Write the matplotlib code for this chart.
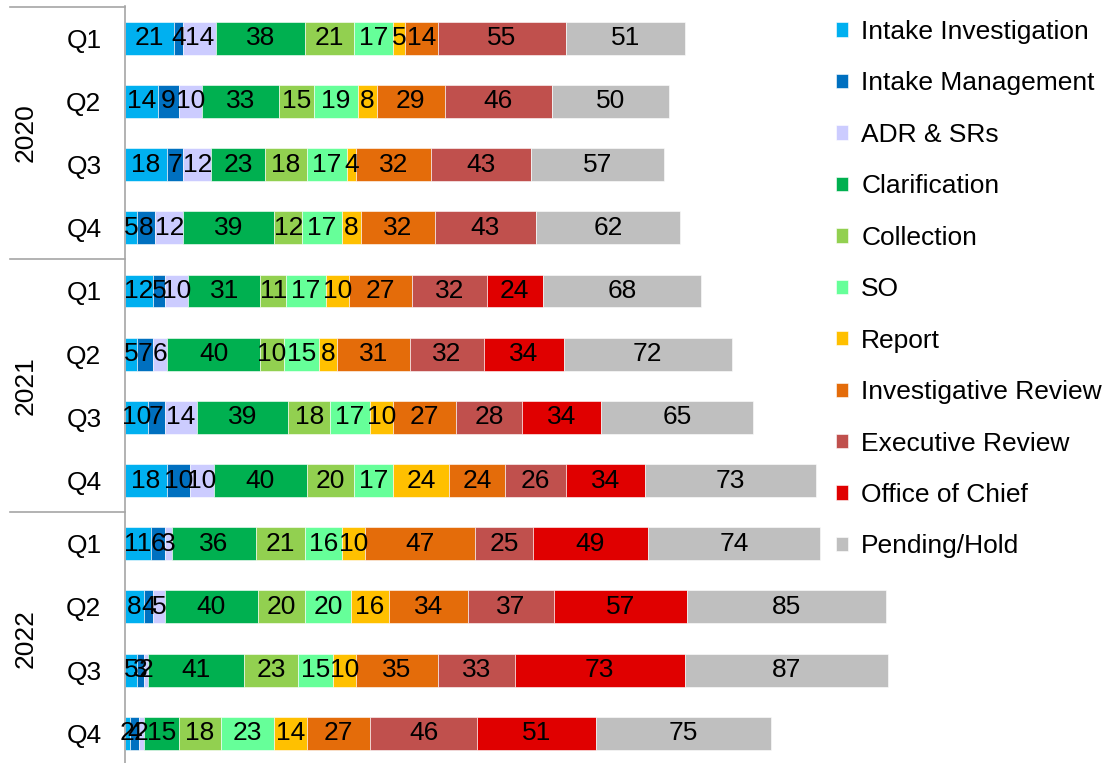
import matplotlib.pyplot as plt
from matplotlib.lines import Line2D
import numpy as np

plt.rcParams['font.family'] = ['Liberation Sans', 'DejaVu Sans']

# stages, in stacking order
stages = ["Intake Investigation", "Intake Management", "ADR & SRs", "Clarification",
          "Collection", "SO", "Report", "Investigative Review", "Executive Review",
          "Office of Chief", "Pending/Hold"]
colors = ["#00B0F0", "#0070C0", "#CCCCFF", "#00B050", "#92D050", "#66FF99",
          "#FFC000", "#E46C0A", "#C0504D", "#E00000", "#BFBFBF"]

years = ["2020", "2021", "2022"]
quarters = ["Q1", "Q2", "Q3", "Q4"]

# one list per stage, 12 quarters (2020 Q1 .. 2022 Q4)
intake_inv   = [21, 14, 18, 5, 12, 5, 10, 18, 11, 8, 5, 2]
intake_mgmt  = [4, 9, 7, 8, 5, 7, 7, 10, 6, 4, 3, 4]
adr_srs      = [14, 10, 12, 12, 10, 6, 14, 10, 3, 5, 2, 2]
clarif       = [38, 33, 23, 39, 31, 40, 39, 40, 36, 40, 41, 15]
collection   = [21, 15, 18, 12, 11, 10, 18, 20, 21, 20, 23, 18]
so           = [17, 19, 17, 17, 17, 15, 17, 17, 16, 20, 15, 23]
report       = [5, 8, 4, 8, 10, 8, 10, 24, 10, 16, 10, 14]
inv_review   = [14, 29, 32, 32, 27, 31, 27, 24, 47, 34, 35, 27]
exec_review  = [55, 46, 43, 43, 32, 32, 28, 26, 25, 37, 33, 46]
office_chief = [0, 0, 0, 0, 24, 34, 34, 34, 49, 57, 73, 51]
pending      = [51, 50, 57, 62, 68, 72, 65, 73, 74, 85, 87, 75]

series = [intake_inv, intake_mgmt, adr_srs, clarif, collection, so, report,
          inv_review, exec_review, office_chief, pending]

W, H = 1112, 763
px = 2.333  # pixels per unit along x
fig = plt.figure(figsize=(W / 100, H / 100), dpi=100)
ax = fig.add_axes([125 / W, 0, 340 * px / W, 757 / H])

y = np.arange(12)
left = np.zeros(12)
for name, vals, c in zip(stages, series, colors):
    vals = np.array(vals)
    bars = ax.barh(y, vals, left=left, height=0.52, color=c, label=name,
                   edgecolor='white', linewidth=0.4)
    ax.bar_label(bars, labels=[str(v) if v else '' for v in vals],
                 label_type='center', fontsize=19, color='black')
    left += vals

ax.set_xlim(0, 340)
ax.set_ylim(11.47, -0.51)
ax.set_yticks(y)
ax.set_yticklabels(quarters * 3, fontsize=19)
ax.tick_params(axis='y', length=0, pad=17)
ax.xaxis.set_visible(False)
for s in ['top', 'right', 'bottom']:
    ax.spines[s].set_visible(False)
ax.spines['left'].set_color('#A6A6A6')
ax.spines['left'].set_linewidth(1.2)

# year group labels and separators
for i, yr in enumerate(years):
    ax.text(-99 / px, i * 4 + 1.5, yr, rotation=90, ha='center', va='center',
            fontsize=19)
for b in [-0.5, 3.5, 7.5]:
    ax.add_line(Line2D([-115 / px, 0], [b, b], color='#A6A6A6', lw=1.2,
                       clip_on=False))

fig.legend(loc='upper left', bbox_to_anchor=(836 / W, 1 - 20 / H), frameon=False,
           fontsize=19, handlelength=0.46, handleheight=0.46, handletextpad=0.5,
           labelspacing=1.04, borderpad=0, borderaxespad=0)

fig.savefig('out.png', dpi=100)
